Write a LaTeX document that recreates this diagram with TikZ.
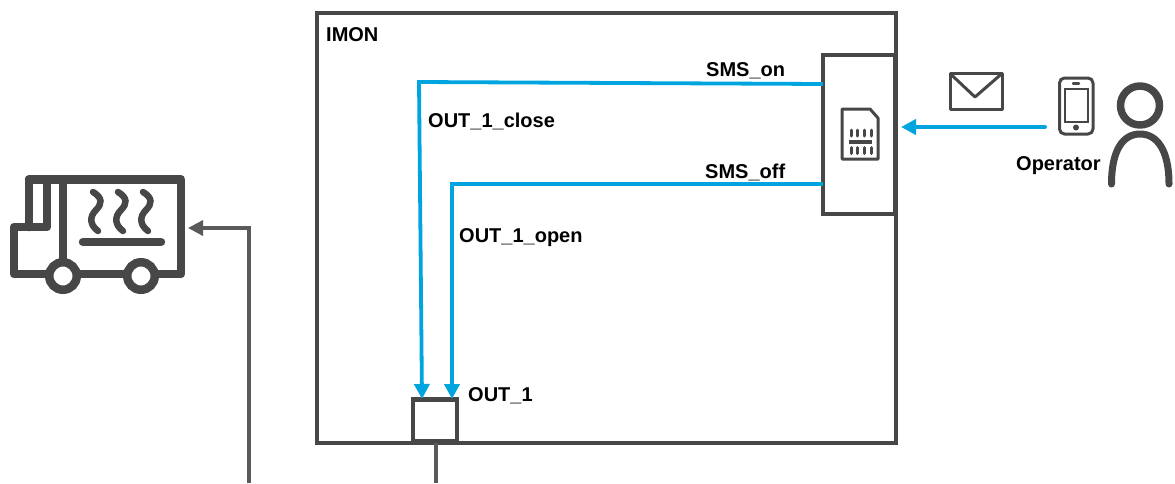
\documentclass[tikz,border=0pt]{standalone}
\usepackage{fontspec}
\setmainfont{Liberation Sans}
\usetikzlibrary{arrows.meta,calc}
\definecolor{ink}{HTML}{474747}
\definecolor{wire}{HTML}{5A5A5A}
\definecolor{sky}{HTML}{00A5DF}
\tikzset{
  x=1pt,y=-1pt,
  boxed/.style={draw=ink,line width=4.4pt,inner sep=0pt,outer sep=0pt,fill=white},
  lbl/.style={font=\bfseries\fontsize{20}{22}\selectfont,text=black,inner sep=0pt,anchor=base west},
  skyarrow/.style={draw=sky,line width=3.8pt,-{Triangle[length=15pt,width=15pt]}},
  wirearrow/.style={draw=wire,line width=3.4pt,-{Triangle[length=15pt,width=15pt]}},
  wireline/.style={draw=wire,line width=3.4pt},
  icon/.style={draw=ink,line width=8.5pt,line cap=round,line join=round},
  thinicon/.style={draw=ink,line width=3pt,line join=round},
}
\begin{document}
\begin{tikzpicture}
\useasboundingbox (0,0) rectangle (1175,483);
% main boxes
\node[boxed,minimum width=579pt,minimum height=430pt] (imon) at (606.5,228) {};
\node[boxed,minimum width=72pt,minimum height=159pt] (sim) at (859,134.5) {};
\node[boxed,minimum width=44pt,minimum height=42pt] (out) at (435,420.5) {};
% free ends
\coordinate (simA) at (823,84);
\coordinate (simB) at (823,184);
\coordinate (outA) at (422,399);
\coordinate (outB) at (452,399);
\coordinate (cornerA) at (419,82);
\coordinate (cornerB) at (452,184);
\coordinate (phoneEnd) at (1045,127);
\coordinate (simEntry) at (901,127);
\coordinate (truckEntry) at (188,228);
\coordinate (truckCorner) at (249,228);
\coordinate (truckFeed) at (249,483);
\coordinate (outFeed) at (436,483);
\coordinate (outBase) at (436,443);
% connectors
\draw[skyarrow] (simA) -- (cornerA) -- (outA);
\draw[skyarrow] (simB) -- (cornerB) -- (outB);
\draw[skyarrow,line cap=round] (phoneEnd) -- (simEntry);
\draw[wirearrow] (truckFeed) -- (truckCorner) -- (truckEntry);
\draw[wireline] (outBase) -- (outFeed);
% labels
\node[lbl] (limon) at (326,41) {IMON};
\node[lbl] (lon) at (706,76) {SMS\_on};
\node[lbl] (loff) at (705,178) {SMS\_off};
\node[lbl] (lclose) at (428,127) {OUT\_1\_close};
\node[lbl] (lopen) at (459,242) {OUT\_1\_open};
\node[lbl] (lout) at (468,401) {OUT\_1};
\node[lbl] (lop) at (1016,170) {Operator};
% truck
\draw[icon] (29,179.5) -- (181,179.5) -- (181,274) -- (14,274) -- (14,227) -- (47,227) -- (47,179.5);
\draw[icon] (29,179.5) -- (29,227);
\draw[icon] (63,179.5) -- (63,262);
\draw[icon] (83,242) -- (161,242);
\foreach \wx/\wn in {63/wa,141/wb}{
  \node[circle,draw=ink,line width=8.5pt,fill=white,minimum size=27.5pt,inner sep=0pt,outer sep=0pt] (\wn) at (\wx,276) {};
}
\foreach \sx in {93,118,143}{
  \draw[draw=ink,line width=6.5pt,line cap=round] (\sx,192) .. controls (\sx+10,198) and (\sx+9,204) .. (\sx+3,210)
     .. controls (\sx-4,217) and (\sx-3,225) .. (\sx+5,231);
}
% SIM icon
\draw[thinicon] (842,109) -- (870,109) -- (878,118) -- (878,159) -- (842,159) -- cycle;
\fill[ink] (849,139.5) rectangle (872,144);
\foreach \cx in {851,857.5,864,871}{
  \draw[ink,line width=3pt,line cap=round] (\cx,130) -- (\cx,136);
  \draw[ink,line width=3pt,line cap=round] (\cx,147.5) -- (\cx,153.5);
}
% envelope
\draw[thinicon] (950,73.5) rectangle (1002,109);
\draw[thinicon] (950,73.5) -- (975,97) -- (1002,73.5);
% phone
\draw[thinicon,rounded corners=5pt] (1059.5,78) rectangle (1093,134);
\draw[draw=ink,line width=2.4pt] (1065,89) rectangle (1088,122);
\draw[ink,line width=2.4pt,line cap=round] (1073,83.5) -- (1079,83.5);
\fill[ink] (1076,127.5) circle (3pt);
% person
\draw[icon,line width=7.5pt] (1140,105.5) circle (19.5pt);
\draw[icon,line width=7pt] (1111.5,184) .. controls (1111.5,150) and (1123,134) .. (1140,134)
   .. controls (1157,134) and (1169,150) .. (1169,184);
\end{tikzpicture}
\end{document}
